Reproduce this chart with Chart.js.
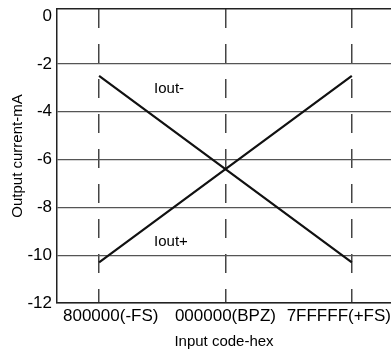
<!DOCTYPE html>
<html><head><meta charset="utf-8">
<script src="https://cdn.jsdelivr.net/npm/chart.js@4/dist/chart.umd.min.js"></script>
<style>html,body{margin:0;padding:0;background:#fff}#wrap{width:391px;height:351px}</style>
</head><body><div id="wrap"><canvas id="c" width="391" height="351"></canvas></div>
<script>
const categories = ['800000(-FS)', '000000(BPZ)', '7FFFFF(+FS)'];
const ioutMinus = [-2.5, -6.4, -10.3];
const ioutPlus = [-10.3, -6.4, -2.5];
const yTicks = [0, -2, -4, -6, -8, -10, -12];
const seriesLabels = ['Iout-', 'Iout+'];
const labelAnchors = [[0.435, -3.05], [0.435, -9.45]];

const FONT = "'Liberation Sans', Arial, sans-serif";

const textPlugin = {
  id: 'seriesText',
  beforeDraw(chart) {
    // keep x tick labels inside the plot's horizontal extent
    const x = chart.scales.x;
    const items = x.getLabelItems(chart.chartArea);
    const ctx = chart.ctx;
    ctx.save();
    items.forEach(it => {
      ctx.font = it.font.string;
      const w = ctx.measureText(String(it.label)).width;
      let cx = it.options.translation[0];
      cx = Math.max(cx, chart.chartArea.left + 6 + w / 2);
      cx = Math.min(cx, chart.width - w / 2);
      it.options.translation[0] = cx;
    });
    ctx.restore();
  },
  afterDatasetsDraw(chart) {
    const {ctx, scales: {x, y}} = chart;
    ctx.save();
    ctx.font = '15px ' + FONT;
    ctx.fillStyle = '#000';
    ctx.textAlign = 'left';
    ctx.textBaseline = 'middle';
    seriesLabels.forEach((t, i) => {
      ctx.fillText(t, x.getPixelForValue(labelAnchors[i][0]), y.getPixelForValue(labelAnchors[i][1]));
    });
    ctx.restore();
  }
};

new Chart(document.getElementById('c'), {
  type: 'line',
  data: {
    datasets: [
      {label: seriesLabels[0], data: categories.map((c, i) => ({x: i, y: ioutMinus[i]})), borderColor: '#111', borderWidth: 2.2, pointRadius: 0, tension: 0},
      {label: seriesLabels[1], data: categories.map((c, i) => ({x: i, y: ioutPlus[i]})), borderColor: '#111', borderWidth: 2.2, pointRadius: 0, tension: 0}
    ]
  },
  options: {
    responsive: false,
    animation: false,
    layout: {padding: {top: 9, right: 0, left: 0, bottom: 0}},
    plugins: {legend: {display: false}, tooltip: {enabled: false}},
    scales: {
      x: {
        type: 'linear',
        min: -0.333,
        max: 2.31,
        afterBuildTicks: s => { s.ticks = categories.map((c, i) => ({value: i})); },
        afterFit: s => { s.height = 48; s.paddingLeft = 0; s.paddingRight = 0; },
        ticks: {
          callback: v => categories[v],
          color: '#000',
          font: {family: FONT, size: 17},
          padding: 3,
          maxRotation: 0,
          autoSkip: false
        },
        grid: {color: '#444', lineWidth: 1.5, drawTicks: false},
        border: {display: true, color: '#222', width: 1.5, dash: [19, 16]},
        title: {display: true, text: 'Input code-hex', color: '#000', font: {family: FONT, size: 15}, padding: {top: 0, bottom: 0}}
      },
      x2: {
        type: 'linear',
        position: 'top',
        min: -0.333,
        max: 2.31,
        afterFit: s => { s.height = 0; s.paddingLeft = 0; s.paddingRight = 0; },
        ticks: {display: false},
        grid: {display: false, drawTicks: false},
        border: {display: true, color: '#222', width: 1.5}
      },
      y: {
        type: 'linear',
        min: -12,
        max: 0.3,
        afterBuildTicks: s => { s.ticks = yTicks.map(v => ({value: v})); },
        afterFit: s => { s.width = 57; s.paddingTop = 0; s.paddingBottom = 0; },
        ticks: {
          color: '#000',
          font: {family: FONT, size: 17},
          padding: 5
        },
        grid: {color: c => (c.tick && c.tick.value === 0) ? 'rgba(0,0,0,0)' : '#555', lineWidth: 1.3, drawTicks: false},
        border: {display: true, color: '#222', width: 1.5},
        title: {display: true, text: 'Output current-mA', color: '#000', font: {family: FONT, size: 15}, padding: {top: 9, bottom: 0}}
      }
    }
  },
  plugins: [textPlugin]
});
</script>
</body></html>
